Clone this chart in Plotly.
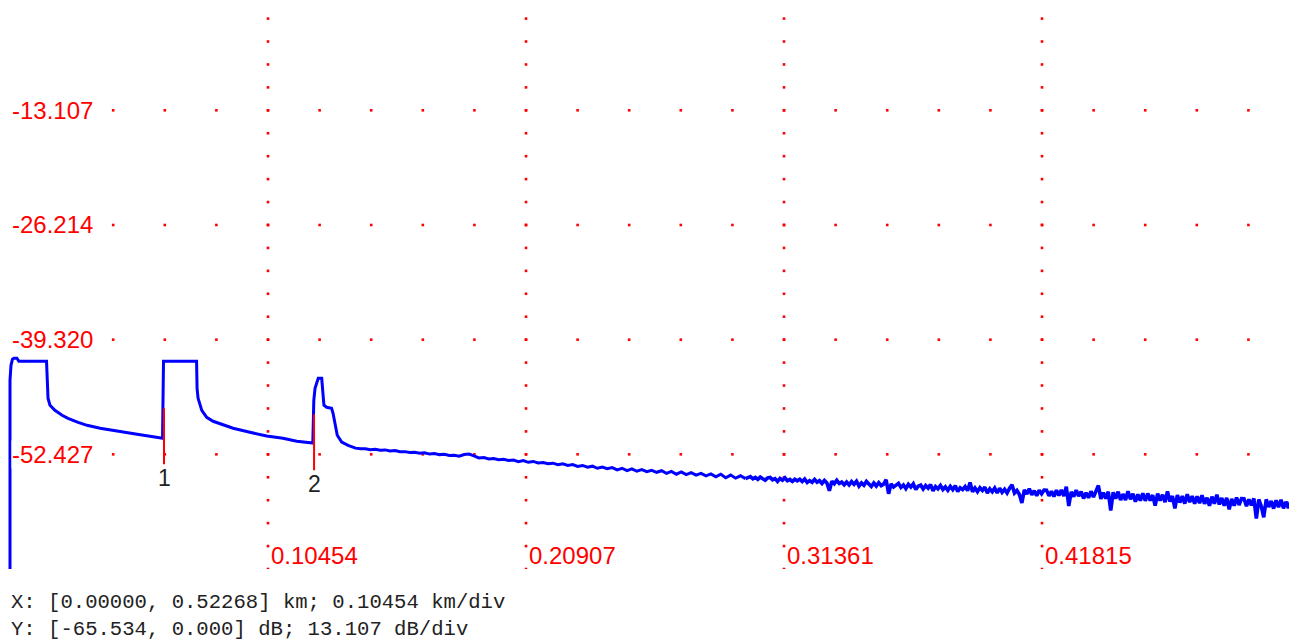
import plotly.graph_objects as go

# ---- axis / division values ----
X_DIV_KM = 0.10454
Y_DIV_DB = 13.107
X_MAX_KM = 0.52268
Y_MIN_DB = -65.534

x_tick_vals = [0.10454, 0.20907, 0.31361, 0.41815]
x_tick_text = ["0.10454", "0.20907", "0.31361", "0.41815"]
y_tick_vals = [-13.107, -26.214, -39.320, -52.427]
y_tick_text = ["-13.107", "-26.214", "-39.320", "-52.427"]

# ---- OTDR trace: launch region and events ----
head_km = [0.0000, 0.0000, 0.0004, 0.0010, 0.0016, 0.0028, 0.0036, 0.0148, 0.0152, 0.0154,
           0.0162, 0.0182, 0.0211, 0.0235, 0.0276, 0.0312, 0.0365, 0.0434, 0.0515, 0.0567,
           0.0618, 0.0622, 0.0756, 0.0758, 0.0762, 0.0777, 0.0797, 0.0823, 0.0858, 0.0904,
           0.0972, 0.1040, 0.1106, 0.1162, 0.1227, 0.1231, 0.1236, 0.1243, 0.1249, 0.1263,
           0.1267, 0.1272, 0.1283, 0.1303, 0.1309, 0.1317, 0.1326, 0.1344, 0.1370]
head_db = [-65.53, -43.97, -42.25, -41.56, -41.45, -41.45, -41.80, -41.80, -44.54, -46.02,
           -46.82, -47.40, -47.97, -48.31, -48.77, -49.11, -49.45, -49.80, -50.14, -50.37,
           -50.59, -41.80, -41.80, -44.88, -46.02, -47.40, -48.20, -48.65, -48.99, -49.45,
           -49.91, -50.33, -50.59, -50.94, -51.13, -46.25, -44.88, -44.08, -43.74, -43.74,
           -44.77, -46.82, -47.05, -47.17, -47.74, -49.11, -50.25, -51.02, -51.40]

# ---- fibre tail, part 1: one sample every 0.002 km from 0.140 km ----
tail1_start_km = 0.140
tail1_step_km = 0.002
tail1_db = [
    -51.72, -51.80, -51.78, -51.90, -51.86, -51.96, -51.92, -52.05, -52.00, -52.12,
    -52.12, -52.22, -52.18, -52.30, -52.26, -52.40, -52.34, -52.46, -52.42, -52.55,
    -52.54, -52.64, -52.45, -52.40, -52.60, -52.84, -52.80, -52.95, -52.90, -53.04,
    -53.00, -53.12, -53.08, -53.26, -53.15, -53.34, -53.24, -53.42, -53.36, -53.50,
    -53.44, -53.62, -53.52, -53.70, -53.60, -53.82, -53.70, -53.90, -53.78, -54.02,
    -53.88, -54.06, -53.94, -54.20, -54.02, -54.30, -54.08, -54.36, -54.18, -54.40,
    -54.26, -54.48, -54.30, -54.60, -54.38, -54.70, -54.44, -54.75, -54.52, -54.80,
    -54.60, -54.88, -54.66, -55.00, -54.70, -55.10, -54.80, -55.15, -54.88, -55.20,
]
# ---- fibre tail, part 2 (noisy end): one sample every 0.001 km from 0.300 km ----
tail2_start_km = 0.300
tail2_step_km = 0.001
tail2_db = [
    -54.98, -55.22, -55.06, -55.28, -55.03, -55.21, -55.38, -55.12, -55.06, -55.33,
    -55.20, -55.52, -55.18, -55.38, -55.12, -55.45, -55.30, -55.52, -55.28, -55.45,
    -55.27, -55.54, -55.25, -55.65, -55.43, -55.62, -55.29, -55.61, -55.44, -55.76,
    -55.42, -55.69, -56.60, -55.50, -55.78, -55.40, -55.76, -55.60, -55.91, -55.59,
    -55.92, -55.55, -55.85, -55.51, -56.06, -55.69, -55.95, -55.52, -55.88, -56.10,
    -55.71, -56.05, -55.67, -56.00, -55.84, -55.33, -56.94, -55.81, -56.17, -55.89,
    -55.75, -56.21, -55.93, -56.34, -55.86, -56.17, -55.80, -56.45, -56.06, -55.93,
    -56.39, -56.00, -56.29, -55.88, -56.60, -56.11, -56.37, -55.99, -56.45, -56.15,
    -56.53, -56.09, -56.46, -56.02, -56.68, -56.25, -56.46, -56.12, -56.58, -55.65,
    -56.71, -56.27, -56.69, -56.25, -56.56, -56.18, -56.84, -56.38, -56.71, -56.28,
    -56.84, -56.30, -56.77, -56.43, -56.85, -56.31, -55.92, -56.84, -56.55, -57.02,
    -57.98, -56.49, -56.96, -56.37, -57.04, -56.60, -57.16, -56.53, -56.94, -56.51,
    -56.52, -57.18, -56.65, -57.26, -56.52, -57.14, -56.50, -57.21, -56.12, -58.34,
    -56.70, -57.26, -56.53, -57.19, -56.70, -57.47, -56.83, -57.39, -56.65, -57.32,
    -56.73, -55.99, -57.51, -56.82, -57.48, -56.70, -58.86, -56.77, -57.48, -56.70,
    -57.66, -56.97, -57.64, -56.65, -57.56, -56.93, -57.84, -57.00, -57.71, -56.88,
    -57.74, -56.90, -57.72, -57.08, -58.30, -56.91, -57.72, -57.04, -57.90, -56.67,
    -57.83, -57.19, -58.61, -57.07, -57.94, -57.20, -58.06, -56.98, -57.89, -57.21,
    -58.07, -57.23, -58.00, -57.11, -58.08, -57.39, -58.30, -57.27, -58.08, -57.05,
    -58.16, -57.42, -58.29, -57.40, -58.72, -57.53, -58.29, -57.36, -58.22, -57.49,
    -57.50, -58.36, -57.58, -58.24, -57.46, -59.77, -57.59, -58.35, -59.62, -57.58,
    -58.45, -57.76, -58.63, -57.69, -58.46, -57.62, -58.59, -57.85, -58.57, -57.73,
    -57.75,
]
end_km = [0.5212, 0.5214]
end_db = [-58.20, -62.00]

tail1_km = [round(tail1_start_km + i * tail1_step_km, 4) for i in range(len(tail1_db))]
tail2_km = [round(tail2_start_km + i * tail2_step_km, 4) for i in range(len(tail2_db))]

# ---- event markers ----
event_km = [0.0624, 0.1232]
event_top_db = [-47.17, -47.85]
event_bottom_db = [-53.57, -54.25]
event_labels = ["1", "2"]

near_km = head_km + tail1_km
near_db = head_db + tail1_db
far_km = [tail1_km[-1]] + tail2_km + end_km
far_db = [tail1_db[-1]] + tail2_db + end_db

# ---- dotted graticule ----
n_x_div = 4
n_y_div = 4
sub = 5
dot_x, dot_y = [], []
for k in range(1, n_y_div + 1):          # horizontal dotted lines
    for j in range(1, 5 * sub + 1):
        dot_x.append(X_DIV_KM * j / sub)
        dot_y.append(-Y_DIV_DB * k)
for k in range(1, n_x_div + 1):          # vertical dotted lines
    for j in range(0, 5 * sub + 1):
        dot_x.append(X_DIV_KM * k)
        dot_y.append(-Y_DIV_DB * j / sub)

fig = go.Figure()
fig.add_trace(go.Scatter(x=dot_x, y=dot_y, mode="markers",
                         marker=dict(symbol="square", size=2.6, color="#ff0000", line=dict(width=0)),
                         hoverinfo="skip", showlegend=False))
fig.add_trace(go.Scatter(x=near_km, y=near_db, mode="lines",
                         line=dict(color="#0000ff", width=3), showlegend=False))
fig.add_trace(go.Scatter(x=far_km, y=far_db, mode="lines",
                         line=dict(color="#0000ff", width=3.6), showlegend=False))

ev_x, ev_y = [], []
for xk, yt, yb in zip(event_km, event_top_db, event_bottom_db):
    ev_x += [xk, xk, None]
    ev_y += [yt, yb, None]
fig.add_trace(go.Scatter(x=ev_x, y=ev_y, mode="lines",
                         line=dict(color="#ff0000", width=2), showlegend=False))

annotations = []
lab_font = dict(family="Liberation Sans, Arial, sans-serif", size=24, color="#ff0000")
for v, t in zip(y_tick_vals, y_tick_text):
    annotations.append(dict(x=0, y=v, xref="x", yref="y", text=t, showarrow=False,
                            xanchor="left", yanchor="middle", font=lab_font,
                            bgcolor="#ffffff", borderpad=0, xshift=1))
for v, t in zip(x_tick_vals, x_tick_text):
    annotations.append(dict(x=v, y=0, xref="x", yref="paper", text=t, showarrow=False,
                            xanchor="left", yanchor="middle", font=lab_font,
                            borderpad=0, xshift=2, yshift=14))
for xk, yb, t in zip(event_km, event_bottom_db, event_labels):
    annotations.append(dict(x=xk, y=yb, xref="x", yref="y", text=t, showarrow=False,
                            xanchor="center", yanchor="top", borderpad=0, yshift=0,
                            font=dict(family="Liberation Sans, Arial, sans-serif", size=23, color="#222222")))
info_font = dict(family="Liberation Mono, DejaVu Sans Mono, monospace", size=20.6, color="#222222")
annotations.append(dict(x=0, y=0, xref="x", yref="paper", xanchor="left", yanchor="middle",
                        text="X: [0.00000, 0.52268] km; 0.10454 km/div", showarrow=False,
                        font=info_font, yshift=-33, borderpad=0))
annotations.append(dict(x=0, y=0, xref="x", yref="paper", xanchor="left", yanchor="middle",
                        text="Y: [-65.534, 0.000] dB; 13.107 dB/div", showarrow=False,
                        font=info_font, yshift=-60, borderpad=0))

# page body has an 8 px margin: figure sized to fit the 1297x643 window
px_per_km = 2468.0
px_per_db = 8.749
fig_w, fig_h = 1289, 635
plot_h = 561
fig.update_layout(
    width=fig_w, height=fig_h,
    margin=dict(l=0, r=0, t=0, b=fig_h - plot_h, pad=0),
    paper_bgcolor="#ffffff", plot_bgcolor="#ffffff",
    xaxis=dict(range=[-2 / px_per_km, (fig_w - 2) / px_per_km], visible=False, fixedrange=True),
    yaxis=dict(range=[Y_MIN_DB, Y_MIN_DB + plot_h / px_per_db], visible=False, fixedrange=True),
    annotations=annotations,
    showlegend=False,
)
fig.write_html("out.html")
